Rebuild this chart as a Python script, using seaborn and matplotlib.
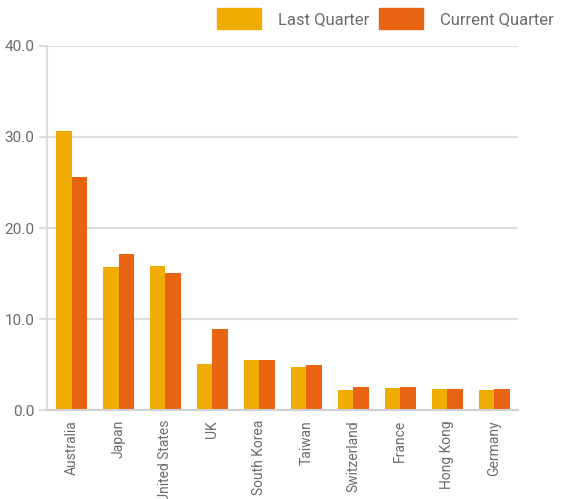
import pandas as pd
import matplotlib.pyplot as plt
import seaborn as sns
from matplotlib import font_manager

# data
countries = ['Australia', 'Japan', 'United States', 'UK', 'South Korea',
             'Taiwan', 'Switzerland', 'France', 'Hong Kong', 'Germany']
last_quarter = [30.7, 15.7, 15.8, 5.1, 5.5, 4.7, 2.2, 2.4, 2.3, 2.2]
current_quarter = [25.6, 17.1, 15.1, 8.9, 5.5, 4.95, 2.6, 2.6, 2.3, 2.3]
series_names = ['Last Quarter', 'Current Quarter']
y_ticks = [0, 10, 20, 30, 40]

colors = ['#F0AC00', '#E86412']
text_color = '#6b6b6b'
grid_color = '#dddddd'

df = pd.DataFrame({
    'Country': countries * 2,
    'Value': last_quarter + current_quarter,
    'Series': [series_names[0]] * len(countries) + [series_names[1]] * len(countries),
})

sns.set_theme(style='white')
installed = {f.name for f in font_manager.fontManager.ttflist}
family = 'Liberation Sans Narrow' if 'Liberation Sans Narrow' in installed else 'Roboto'
plt.rcParams['font.family'] = [family, 'DejaVu Sans']

fig = plt.figure(figsize=(5.61, 4.99), dpi=100)
ax = fig.add_axes([0.084, 0.178, 0.839, 0.730])

sns.barplot(data=df, x='Country', y='Value', hue='Series', palette=colors,
            width=0.66, saturation=1, linewidth=0, ax=ax, legend=False)

ax.set_ylim(0, 40)
ax.set_yticks(y_ticks)
ax.set_yticklabels([f'{v:.1f}' for v in y_ticks])
ax.set_xlim(-0.52, len(countries) - 0.5)
ax.set_xlabel('')
ax.set_ylabel('')
ax.yaxis.grid(True, color=grid_color, linewidth=1.5)
ax.set_axisbelow(True)

for side in ['top', 'right']:
    ax.spines[side].set_visible(False)
ax.spines['left'].set_color(grid_color)
ax.spines['left'].set_linewidth(1.5)
ax.spines['bottom'].set_color('#d0d0d0')
ax.spines['bottom'].set_linewidth(1.5)

ax.tick_params(axis='y', colors=grid_color, labelcolor=text_color, labelsize=11,
               length=6, width=1.5, left=True, pad=3)
ax.tick_params(axis='x', labelcolor=text_color, labelsize=10, length=0, pad=7)
plt.setp(ax.get_xticklabels(), rotation=90)

handles = [plt.Rectangle((0, 0), 1, 1, color=c) for c in colors]
fig.legend(handles, series_names, loc='upper right', bbox_to_anchor=(1.0, 1.0),
           ncol=2, frameon=False, fontsize=12, labelcolor=text_color,
           handlelength=2.65, handleheight=1.6, handletextpad=1.0,
           columnspacing=0.6, borderaxespad=0.0, borderpad=0.45)

fig.savefig('out.png', dpi=100)
